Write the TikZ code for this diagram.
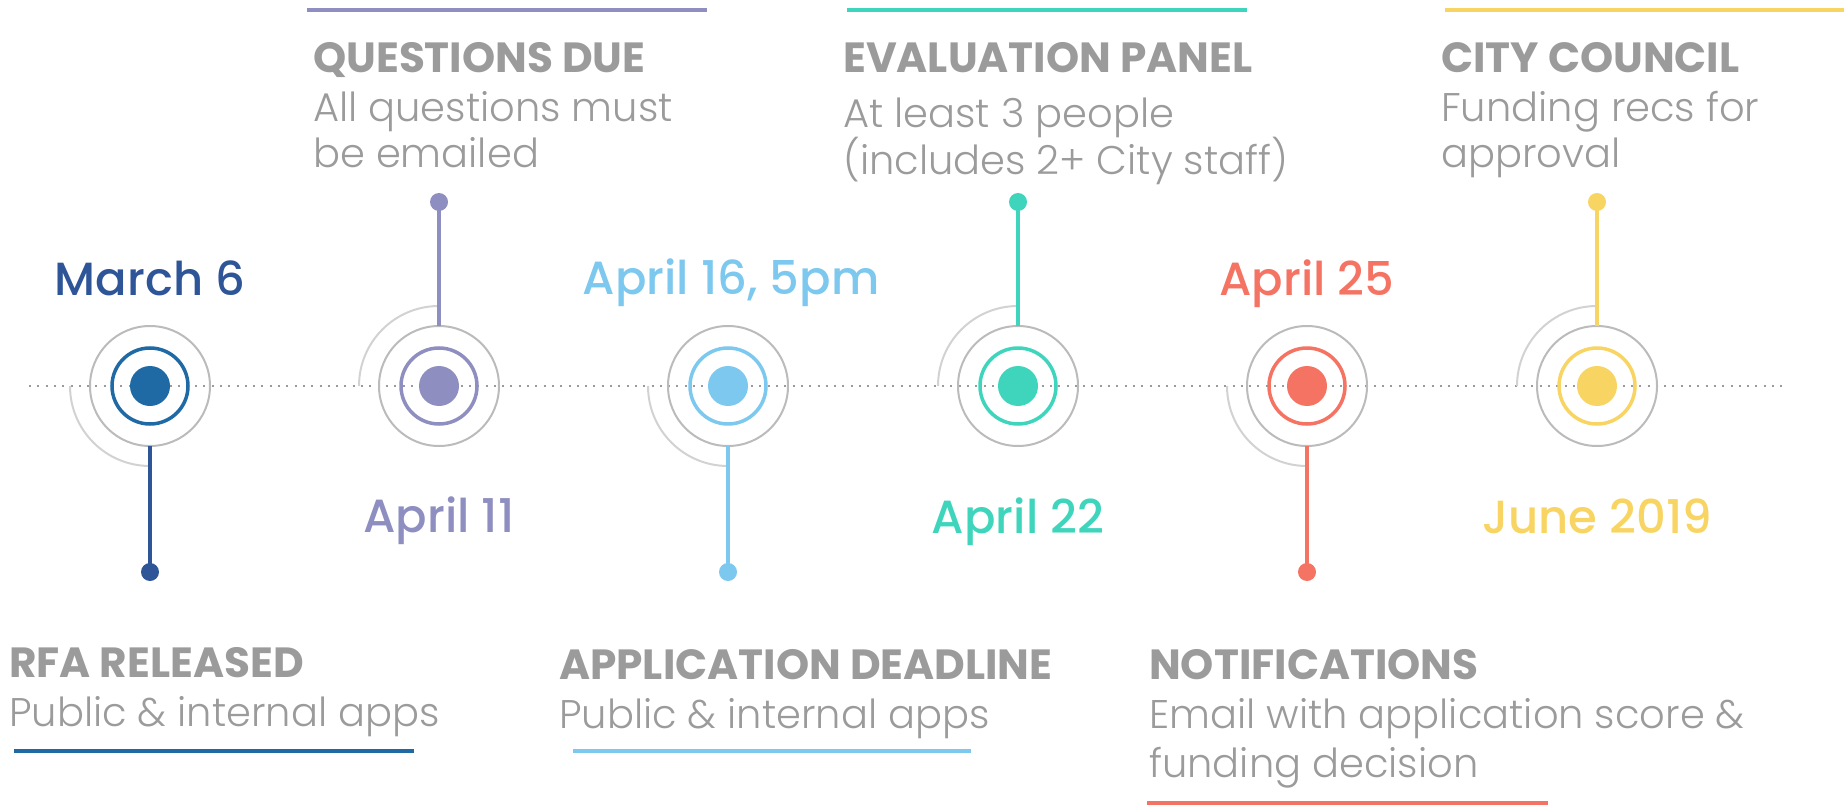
\documentclass[tikz,border=0pt]{standalone}
\usepackage{fontspec}
\setmainfont{Poppins}
\newfontfamily\plight{Poppins Light}
\newfontfamily\pmed{Poppins Medium}
\newfontfamily\pbold{Poppins Bold}
\definecolor{cA}{HTML}{1F6AA5}
\definecolor{cAdark}{HTML}{2E5597}
\definecolor{cB}{HTML}{8E8EC0}
\definecolor{cC}{HTML}{7DC8EE}
\definecolor{cD}{HTML}{3FD5BC}
\definecolor{cE}{HTML}{F47363}
\definecolor{cF}{HTML}{F8D462}
\definecolor{txt}{HTML}{9B9B9B}
\definecolor{ringg}{HTML}{BBBBBB}
\definecolor{arcg}{HTML}{D2D2D2}
\definecolor{dotg}{HTML}{9A9A9A}
\begin{document}
\begin{tikzpicture}[x=1pt,y=-1pt,
 ocirc/.style={circle,draw=ringg,line width=2pt,minimum size=120pt,inner sep=0pt,outer sep=0pt},
 rcirc/.style={circle,draw=#1,line width=3.5pt,minimum size=76pt,inner sep=0pt},
 ccirc/.style={circle,fill=#1,minimum size=40pt,inner sep=0pt},
 tipdot/.style={circle,fill=#1,minimum size=18pt,inner sep=0pt},
 stemline/.style={draw=#1,line width=3.5pt},
 halo/.style={draw=arcg,line width=2pt},
 datelbl/.style={text=#1,font=\pmed\fontsize{46.5}{56}\selectfont,anchor=base,inner sep=0pt},
 headlbl/.style={text=txt,font=\pbold\fontsize{42.2}{50}\selectfont,anchor=base west,inner sep=0pt},
 bodylbl/.style={text=txt,font=\plight\fontsize{40}{46}\selectfont,anchor=base west,inner sep=0pt},
 underbar/.style={draw=#1,line width=4pt},
 dottedaxis/.style={draw=dotg,line width=2pt,dash pattern=on 2pt off 6.3pt},
]
\useasboundingbox (0,0) rectangle (1844,805);
% axis
\coordinate (axL) at (29,386);
\coordinate (axR) at (1786,386);
\draw[dottedaxis] (axL) -- (axR);

% milestone circles
\foreach \i/\x/\c in {1/150/cA,2/439/cB,3/728/cC,4/1018/cD,5/1307/cE,6/1597/cF}{
  \node[ocirc] (o\i) at (\x,386) {};
  \node[rcirc=\c] (r\i) at (\x,386) {};
  \node[ccirc=\c] (c\i) at (\x,386) {};
}
% halo arcs (bottom for 1,3,5; top for 2,4,6)
\foreach \i in {1,3,5}{
  \draw[halo] ([xshift=-80pt]o\i.center) arc[start angle=180,end angle=270,radius=80pt];
}
\foreach \i in {2,4,6}{
  \draw[halo] ([xshift=-80pt]o\i.center) arc[start angle=180,end angle=90,radius=80pt];
}

% stems and tip dots
\node[tipdot=cAdark] (t1) at (150,572) {};
\node[tipdot=cB] (t2) at (439,202) {};
\node[tipdot=cC] (t3) at (728,572) {};
\node[tipdot=cD] (t4) at (1018,202) {};
\node[tipdot=cE] (t5) at (1307,572) {};
\node[tipdot=cF] (t6) at (1597,202) {};
\draw[stemline=cAdark] (o1.south) -- (t1.center);
\draw[stemline=cB] (o2.north) -- (t2.center);
\draw[stemline=cC] (o3.south) -- (t3.center);
\draw[stemline=cD] (o4.north) -- (t4.center);
\draw[stemline=cE] (o5.south) -- (t5.center);
\draw[stemline=cF] (o6.north) -- (t6.center);

% dates
\node[datelbl=cAdark] (d1) at (150,295) {March 6};
\node[datelbl=cB] (d2) at (439,532) {April 11};
\node[datelbl=cC] (d3) at (731,294) {April 16, 5pm};
\node[datelbl=cD] (d4) at (1018,533) {April 22};
\node[datelbl=cE] (d5) at (1307,295) {April 25};
\node[datelbl=cF] (d6) at (1597,533) {June 2019};

% top labels
\draw[underbar=cB] (307,10) -- (707,10);
\node[headlbl] (h2) at (313,73) {QUESTIONS DUE};
\node[bodylbl] (b2a) at (313,122) {All questions must};
\node[bodylbl] (b2b) at (313,168) {be emailed};

\draw[underbar=cD] (847,10) -- (1247,10);
\node[headlbl] (h4) at (843,73) {EVALUATION PANEL};
\node[bodylbl] (b4a) at (843,128) {At least 3 people};
\node[bodylbl] (b4b) at (843,175) {(includes 2+ City staff)};

\draw[underbar=cF] (1445,10) -- (1844,10);
\node[headlbl] (h6) at (1441,73) {CITY COUNCIL};
\node[bodylbl] (b6a) at (1441,122) {Funding recs for};
\node[bodylbl] (b6b) at (1441,168) {approval};

% bottom labels
\node[headlbl] (h1) at (9,677) {RFA RELEASED};
\node[bodylbl] (b1a) at (9,726) {Public \& internal apps};
\draw[underbar=cA] (14,751) -- (414,751);

\node[headlbl] (h3) at (559,679) {APPLICATION DEADLINE};
\node[bodylbl] (b3a) at (559,728) {Public \& internal apps};
\draw[underbar=cC] (573,751) -- (971,751);

\node[headlbl] (h5) at (1149,679) {NOTIFICATIONS};
\node[bodylbl] (b5a) at (1149,728) {Email with application score \&};
\node[bodylbl] (b5b) at (1149,777) {funding decision};
\draw[underbar=cE] (1147,803) -- (1548,803);
\end{tikzpicture}
\end{document}
